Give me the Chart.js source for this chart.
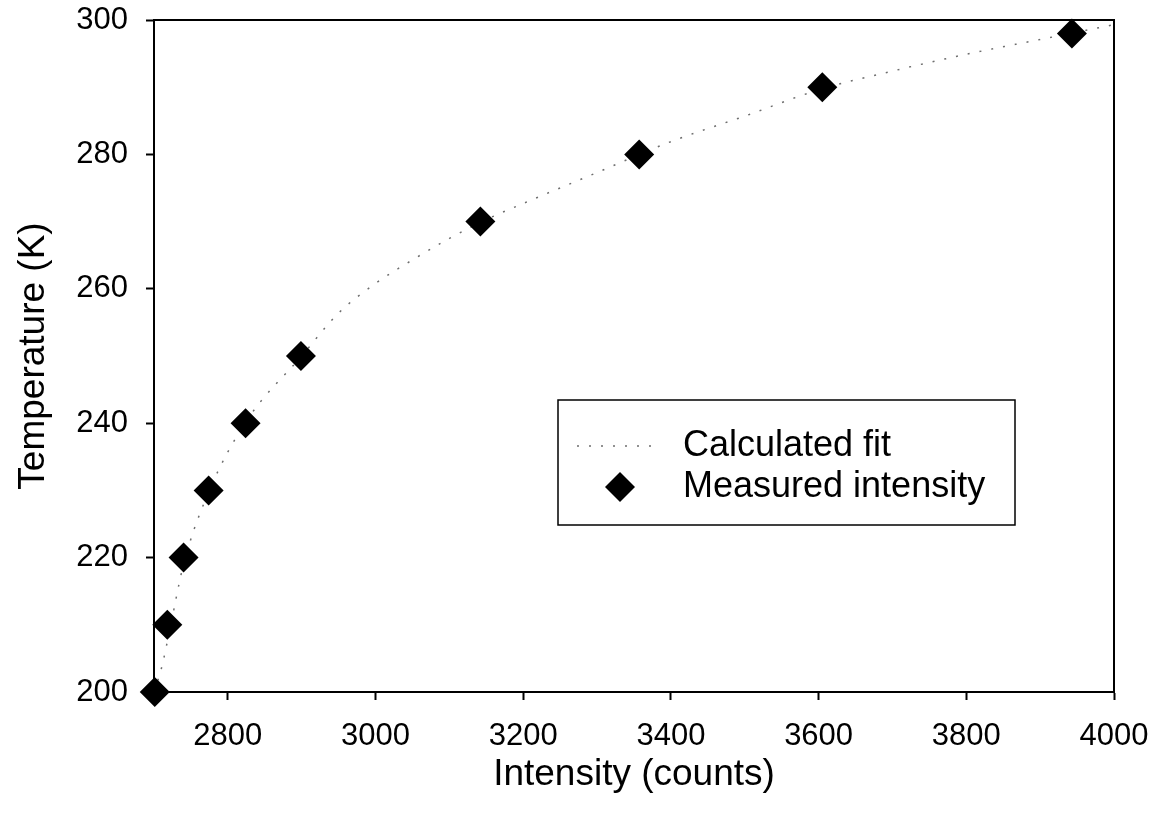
<!DOCTYPE html>
<html>
<head>
<meta charset="utf-8">
<script src="https://cdn.jsdelivr.net/npm/chart.js@4"></script>
<style>
  body { margin: 0; background: #fff; }
  #wrap { width: 1155px; height: 819px; }
</style>
</head>
<body>
<div id="wrap"><canvas id="chart" width="1155" height="819"></canvas></div>
<script>
const measuredIntensity = [2701, 2718, 2740, 2774, 2824, 2899, 3142, 3357, 3605, 3943];
const measuredTemperature = [200, 210, 220, 230, 240, 250, 270, 280, 290, 298];
const fitIntensity = [2700, 2710, 2720, 2740, 2775, 2825, 2900, 2950, 3000, 3050, 3100, 3150, 3200, 3300, 3400, 3500, 3600, 3700, 3800, 3900, 4000];
const fitTemperature = [200, 203.5, 208.5, 219, 230, 240.3, 250, 256.4, 260.8, 264.3, 267.5, 270.3, 272.7, 277.3, 281.9, 285.7, 289.6, 292.4, 294.9, 297.1, 299.3];
const xTicks = [2800, 3000, 3200, 3400, 3600, 3800, 4000];
const yTicks = [200, 220, 240, 260, 280, 300];

const FONT = '"Liberation Sans", Arial, sans-serif';
const fitColor = '#6e6e6e';

function toPoints(xs, ys) {
    return xs.map((x, i) => ({ x: x, y: ys[i] }));
}

function drawDiamond(ctx, x, y, r) {
    ctx.beginPath();
    ctx.moveTo(x, y - r);
    ctx.lineTo(x + r, y);
    ctx.lineTo(x, y + r);
    ctx.lineTo(x - r, y);
    ctx.closePath();
    ctx.fillStyle = '#000';
    ctx.fill();
}

// frame around the plot, drawn under the markers
const plotFrame = {
    id: 'plotFrame',
    beforeDatasetsDraw(chart) {
        const { ctx, chartArea: a } = chart;
        ctx.save();
        ctx.strokeStyle = '#000';
        ctx.lineWidth = 2;
        ctx.strokeRect(a.left, a.top, a.right - a.left, a.bottom - a.top);
        ctx.restore();
    }
};

// boxed legend inside the plot
const boxLegend = {
    id: 'boxLegend',
    afterDatasetsDraw(chart) {
        const { ctx, chartArea: a } = chart;
        const left = a.left + 404, top = a.top + 380;
        const w = 457, h = 125;
        ctx.save();
        ctx.fillStyle = '#fff';
        ctx.fillRect(left, top, w, h);
        ctx.strokeStyle = '#000';
        ctx.lineWidth = 1.5;
        ctx.strokeRect(left, top, w, h);

        const row1 = top + 46, row2 = top + 87;
        ctx.strokeStyle = fitColor;
        ctx.lineWidth = 1.5;
        ctx.setLineDash([2, 10]);
        ctx.beginPath();
        ctx.moveTo(left + 19, row1);
        ctx.lineTo(left + 95, row1);
        ctx.stroke();
        ctx.setLineDash([]);

        drawDiamond(ctx, left + 62, row2, 15);

        ctx.fillStyle = '#000';
        ctx.font = '36px ' + FONT;
        ctx.textBaseline = 'middle';
        ctx.textAlign = 'left';
        ctx.fillText(chart.data.datasets[1].label, left + 125, row1);
        ctx.fillText(chart.data.datasets[0].label, left + 125, row2);
        ctx.restore();
    }
};

const ctx = document.getElementById('chart').getContext('2d');
new Chart(ctx, {
    type: 'scatter',
    data: {
        datasets: [{
            label: 'Measured intensity',
            data: toPoints(measuredIntensity, measuredTemperature),
            pointStyle: 'rectRot',
            pointRadius: 15,
            pointHoverRadius: 15,
            backgroundColor: '#000',
            borderColor: '#000',
            borderWidth: 0,
            clip: false
        }, {
            label: 'Calculated fit',
            data: toPoints(fitIntensity, fitTemperature),
            showLine: true,
            pointRadius: 0,
            borderColor: fitColor,
            borderWidth: 1.5,
            borderDash: [2, 10],
            cubicInterpolationMode: 'monotone',
            fill: false
        }]
    },
    options: {
        responsive: false,
        animation: false,
        events: [],
        layout: { padding: { top: 20, right: 41, left: 0, bottom: 0 } },
        plugins: {
            legend: { display: false },
            tooltip: { enabled: false }
        },
        scales: {
            x: {
                type: 'linear',
                min: 2700,
                max: 4000,
                afterBuildTicks: s => { s.ticks = xTicks.map(v => ({ value: v })); },
                afterFit: s => { s.height = 127; s.paddingLeft = 0; s.paddingRight = 0; },
                grid: { drawOnChartArea: false, drawTicks: true, tickLength: 8, tickColor: '#000', tickWidth: 2 },
                border: { display: true, color: '#000', width: 2 },
                ticks: { color: '#000', padding: 18, maxRotation: 0, callback: v => String(v), font: { family: FONT, size: 31 } },
                title: { display: true, text: 'Intensity (counts)', color: '#000', padding: { top: 0, bottom: 22 }, font: { family: FONT, size: 37 } }
            },
            y: {
                type: 'linear',
                min: 200,
                max: 300,
                afterBuildTicks: s => { s.ticks = yTicks.map(v => ({ value: v })); },
                afterFit: s => { s.width = 154; s.paddingTop = 0; s.paddingBottom = 0; },
                grid: { drawOnChartArea: false, drawTicks: true, tickLength: 8, tickColor: '#000', tickWidth: 2 },
                border: { display: true, color: '#000', width: 2 },
                ticks: { color: '#000', padding: 18, callback: v => String(v), font: { family: FONT, size: 31 } },
                title: { display: true, text: 'Temperature (K)', color: '#000', padding: { top: 12, bottom: 0 }, font: { family: FONT, size: 37 } }
            }
        }
    },
    plugins: [plotFrame, boxLegend]
});
</script>
</body>
</html>
